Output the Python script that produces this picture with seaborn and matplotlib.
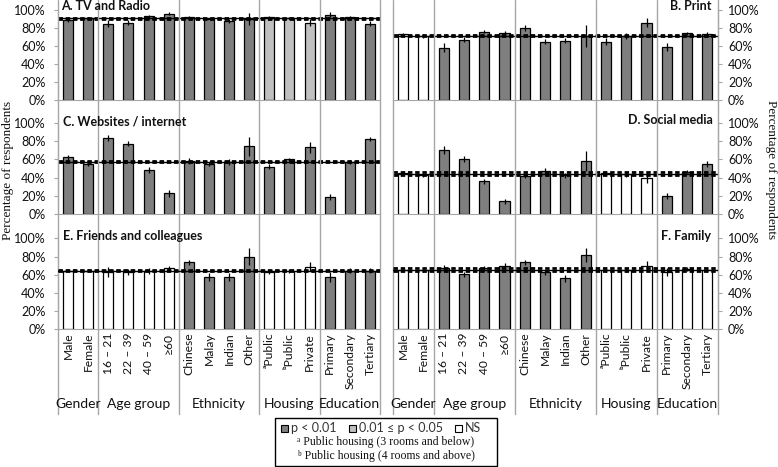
import matplotlib
matplotlib.use("Agg")
import matplotlib.pyplot as plt
import matplotlib.transforms as mtransforms
from matplotlib.patches import Rectangle
import numpy as np
import pandas as pd
import seaborn as sns

# ---------------- data ----------------
categories = ["Male", "Female", "16 – 21", "22 – 39", "40 – 59", "≥60",
              "Chinese", "Malay", "Indian", "Other",
              "ᵃPublic", "ᵇPublic", "Private",
              "Primary", "Secondary", "Tertiary"]
group_names = ["Gender", "Age group", "Ethnicity", "Housing", "Education"]
group_sizes = [2, 4, 4, 3, 3]

panel_titles = ["A. TV and Radio", "B. Print", "C. Websites / internet",
                "D. Social media", "E. Friends and colleagues", "F. Family"]

# p = p < 0.01, m = 0.01 <= p < 0.05, n = NS
tv_values = [89, 91, 85, 86, 93, 96, 92, 90.5, 88, 90, 92, 91, 86, 95, 92, 85]
tv_err = [2, 1.5, 4, 2.5, 1.5, 2, 1, 1, 2.5, 7, 1, 1, 4, 3, 1.5, 3]
tv_sig = ["p", "p", "p", "p", "p", "p", "p", "p", "p", "p", "m", "m", "m", "p", "p", "p"]
tv_overall, tv_ci = 91.0, 0.6

print_values = [73, 71, 58, 67, 76, 74, 80, 65, 66, 71, 65, 71, 86, 59, 74, 73]
print_err = [2, 2, 5, 3, 2, 3, 3, 3, 3, 12, 4, 3, 5, 4, 2, 3]
print_sig = ["n", "n", "p", "p", "p", "p", "p", "p", "p", "p", "p", "p", "p", "p", "p", "p"]
print_overall, print_ci = 71.4, 0.7

web_values = [62, 55, 83, 77, 48, 23, 58, 55, 57, 74, 52, 60, 73, 19, 57, 82]
web_err = [3, 2, 3, 3, 3, 4, 3, 2, 3, 10, 3, 1.5, 6, 3, 2, 2.5]
web_sig = ["p"] * 16
web_overall, web_ci = 57.3, 0.8

social_values = [45, 43, 70, 60, 36, 14, 42, 47, 42.5, 58, 44.5, 43.5, 40, 20, 46.5, 55]
social_err = [2, 2, 4, 3, 2.5, 3, 2, 3, 3, 11, 2, 3, 6, 3, 2, 3]
social_sig = ["n", "n", "p", "p", "p", "p", "p", "p", "p", "p", "n", "n", "n", "p", "p", "p"]
social_overall, social_ci = 44.1, 1.8

friends_values = [64.5, 64.5, 63, 63, 64, 67, 73.5, 57.5, 57.5, 80, 63, 64, 69, 57.5, 64.5, 64.5]
friends_err = [2, 2, 5, 3, 3, 3, 3, 4, 4, 9, 2, 2, 5, 5, 3, 3]
friends_sig = ["n", "n", "n", "n", "n", "n", "p", "p", "p", "p", "n", "n", "n", "p", "p", "p"]
friends_overall, friends_ci = 64.5, 0.8

family_values = [65.5, 65.5, 67, 60.5, 67, 69.5, 73.5, 62.5, 56, 81.5, 65.5, 65.5, 70, 63, 66.5, 65.5]
family_err = [2, 2, 4, 3, 3, 3, 3, 3, 4, 8, 2, 2, 5, 4, 2, 2]
family_sig = ["n", "n", "p", "p", "p", "p", "p", "p", "p", "p", "n", "n", "n", "n", "n", "n"]
family_overall, family_ci = 65.5, 1.7

legend_labels = ["p < 0.01", "0.01 ≤ p < 0.05", "NS"]
footnotes = ["ᵃ Public housing (3 rooms and below)", "ᵇ Public housing (4 rooms and above)"]
ylabel = "Percentage of respondents"

panels = [
    (tv_values, tv_err, tv_sig, tv_overall, tv_ci),
    (print_values, print_err, print_sig, print_overall, print_ci),
    (web_values, web_err, web_sig, web_overall, web_ci),
    (social_values, social_err, social_sig, social_overall, social_ci),
    (friends_values, friends_err, friends_sig, friends_overall, friends_ci),
    (family_values, family_err, family_sig, family_overall, family_ci),
]

# ---------------- style ----------------
sns.set_style("white")
plt.rcParams['font.family'] = ['Lato', 'DejaVu Sans']
SERIF = ['Liberation Serif', 'DejaVu Serif']
sig_colors = {"p": "#7f7f7f", "m": "#c0c0c0", "n": "#ffffff"}
GRID = "#a6a6a6"
TXT = "#111111"

W, H = 778, 467
fig = plt.figure(figsize=(W / 100, H / 100), dpi=100)


def rect(x0, y0, x1, y1):
    return [x0 / W, 1 - y1 / H, (x1 - x0) / W, (y1 - y0) / H]


cols = [(58, 380), (393, 717.5)]
rows = [(10, 100), (122.5, 214.3), (238.3, 329.3)]

bounds = np.cumsum([0] + group_sizes) - 0.5
centers = [(bounds[i] + bounds[i + 1]) / 2 for i in range(len(group_sizes))]

axes = []
for i, (vals, err, sig, overall, ci) in enumerate(panels):
    r, c = divmod(i, 2)
    ax = fig.add_axes(rect(cols[c][0], rows[r][0], cols[c][1], rows[r][1]))
    axes.append(ax)
    df = pd.DataFrame({"category": categories, "value": vals, "sig": sig})
    pal = {cat: sig_colors[s] for cat, s in zip(categories, sig)}
    sns.barplot(data=df, x="category", y="value", hue="category", order=categories,
                hue_order=categories, palette=pal, dodge=False, legend=False,
                width=0.5, edgecolor="black", linewidth=0.9, errorbar=None, ax=ax)
    ax.errorbar(np.arange(len(categories)), vals, yerr=err, fmt="none",
                ecolor="black", elinewidth=0.9, capsize=0, zorder=4)
    ax.axhline(overall, color="black", lw=1.0, zorder=5)
    for off in (ci, -ci):
        ax.axhline(overall + off, color="black", lw=2.0, ls=(0, (1.6, 1.0)), zorder=5)
    ax.set_xlim(-0.5, len(categories) - 0.5)
    ax.set_ylim(0, 100)
    ax.set_yticks(range(0, 101, 20))
    ax.set_yticklabels([f"{t}%" for t in range(0, 101, 20)])
    ax.set_xlabel("")
    ax.set_ylabel("")
    for s in ax.spines.values():
        s.set_visible(False)
    ax.spines["bottom"].set_visible(True)
    ax.spines["bottom"].set_color(GRID)
    if c == 0:
        ax.spines["left"].set_visible(True)
        ax.spines["left"].set_color(GRID)
        ax.tick_params(axis="y", left=True, length=3, pad=6, color=GRID,
                       labelsize=9, labelcolor=TXT)
    else:
        ax.spines["right"].set_visible(True)
        ax.spines["right"].set_color(GRID)
        ax.yaxis.tick_right()
        ax.tick_params(axis="y", right=True, length=3, pad=4.5, color=GRID,
                       labelsize=9, labelcolor=TXT)
    ax.tick_params(axis="x", length=0, pad=2.5)
    ax.set_xticks(range(len(categories)))
    if r == 2:
        ax.set_xticklabels(categories, rotation=90, fontsize=8.7, color=TXT)
    else:
        ax.set_xticklabels([])
    ax.patch.set_alpha(0)

# separators and group labels
for c in range(2):
    ax = axes[4 + c]
    blend = mtransforms.blended_transform_factory(ax.transData, fig.transFigure)
    for b in bounds:
        ax.plot([b, b], [1.0, 1 - 414 / H], transform=blend, color=GRID, lw=1.0,
                clip_on=False, zorder=0)
    for name, cx in zip(group_names, centers):
        ax.text(cx, 1 - 404 / H, name, transform=blend, ha="center", va="center",
                fontsize=10, color=TXT)

# titles
title_pos = [(61, 6, "left"), (711, 6, "right"), (63, 122, "left"),
             (713, 120, "right"), (63, 236, "left"), (711, 236, "right")]
for t, (x, y, ha) in zip(panel_titles, title_pos):
    fig.text(x / W, 1 - y / H, t, ha=ha, va="center", fontsize=9,
             fontweight="bold", color=TXT)

# y labels
fig.text(8 / W, 1 - 170 / H, ylabel, rotation=90, ha="center", va="center",
         fontsize=9.5, family=SERIF, color=TXT)
fig.text(771 / W, 1 - 170 / H, ylabel, rotation=270, ha="center", va="center",
         fontsize=9.5, family=SERIF, color=TXT)

# legend box
lx0, ly0, lx1, ly1 = 275, 418, 497, 466
fig.add_artist(Rectangle((lx0 / W, 1 - ly1 / H), (lx1 - lx0) / W, (ly1 - ly0) / H,
                         transform=fig.transFigure, facecolor="white",
                         edgecolor="black", lw=1.0))
sq = 7
for (sx, tx), lab, key in zip([(281, 291), (349, 359), (455, 465)], legend_labels, ["p", "m", "n"]):
    fig.add_artist(Rectangle((sx / W, 1 - (428 + sq / 2) / H), sq / W, sq / H,
                             transform=fig.transFigure, facecolor=sig_colors[key],
                             edgecolor="black", lw=0.8))
    fig.text(tx / W, 1 - 428 / H, lab, ha="left", va="center", fontsize=9, color="#333333")
for y, t in zip([442.5, 456.5], footnotes):
    fig.text(386 / W, 1 - y / H, t, ha="center", va="center", fontsize=8.5,
             family=SERIF, color=TXT)

fig.savefig("out.png", dpi=100, facecolor="white")
